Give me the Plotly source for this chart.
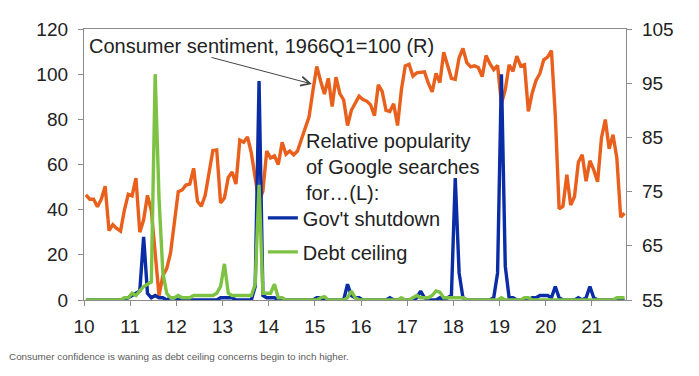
import plotly.graph_objects as go

# ---------------- data (monthly, Jan 2010 .. Sep 2021) ----------------
sentiment = [
    74.4, 73.6, 73.6, 72.2, 73.6, 76.0, 67.8, 68.9, 68.2, 67.7, 71.6, 74.5,   # 2010
    74.2, 77.5, 67.5, 69.8, 74.3, 71.5, 63.7, 55.8, 59.5, 60.8, 63.7, 69.9,   # 2011
    75.0, 75.3, 76.2, 76.4, 79.3, 73.2, 72.3, 74.3, 78.3, 82.6, 82.7, 72.9,   # 2012
    73.8, 77.6, 78.6, 76.4, 84.5, 84.1, 85.1, 82.1, 77.5, 73.2, 75.1, 82.5,   # 2013
    81.2, 81.6, 80.0, 84.1, 81.9, 82.5, 81.8, 82.5, 84.6, 86.9, 88.8, 93.6,   # 2014
    98.1, 95.4, 93.0, 95.9, 90.7, 96.1, 93.1, 91.9, 87.2, 90.0, 91.3, 92.6,   # 2015
    92.0, 91.7, 91.0, 89.0, 94.7, 93.5, 90.0, 89.8, 91.2, 87.2, 93.8, 98.2,   # 2016
    98.5, 96.3, 96.9, 97.0, 97.1, 95.0, 93.4, 96.8, 95.1, 100.7, 98.5, 95.9,  # 2017
    95.7, 99.7, 101.4, 98.8, 98.0, 98.2, 97.9, 96.2, 100.1, 98.6, 97.5, 98.3, # 2018
    91.2, 93.8, 98.4, 97.2, 100.0, 98.2, 98.4, 89.8, 93.2, 95.5, 96.8, 99.3,  # 2019
    99.8, 101.0, 89.1, 71.8, 72.3, 78.1, 72.5, 74.1, 80.4, 81.8, 76.9, 80.7,  # 2020
    79.0, 76.8, 84.9, 88.3, 82.9, 85.5, 81.2, 70.3, 71.0,                     # 2021
]

shutdown = [
    0, 0, 0, 0, 0, 0, 0, 0, 0, 0, 0, 1,        # 2010
    2, 3, 4, 28, 3, 1, 2, 1, 1, 0, 1, 1,       # 2011
    0, 0, 0, 0, 0, 0, 0, 0, 0, 0, 0, 1,        # 2012
    1, 1, 1, 0, 0, 0, 0, 0, 6, 97, 2, 1,       # 2013
    1, 1, 0, 0, 0, 0, 0, 0, 0, 0, 0, 0,        # 2014
    1, 1, 0, 0, 0, 0, 0, 0, 7, 2, 1, 1,        # 2015
    0, 0, 0, 0, 0, 0, 0, 1, 0, 0, 0, 0,        # 2016
    0, 0, 1, 4, 1, 0, 0, 0, 1, 0, 1, 2,        # 2017
    54, 12, 1, 0, 0, 0, 0, 0, 0, 0, 1, 12,     # 2018
    100, 15, 1, 1, 0, 0, 0, 0, 1, 1, 2, 2,     # 2019
    2, 1, 6, 1, 0, 0, 0, 0, 1, 0, 1, 6,        # 2020
    1, 0, 0, 0, 0, 0, 0, 0, 0,                 # 2021
]

debt_ceiling = [
    0, 0, 0, 0, 0, 0, 0, 0, 0, 0, 1, 1,        # 2010
    3, 2, 4, 6, 7, 8, 100, 45, 12, 3, 1, 1,    # 2011
    2, 1, 1, 1, 2, 2, 2, 2, 2, 2, 3, 6,        # 2012
    16, 3, 2, 2, 2, 2, 2, 2, 7, 51, 3, 3,      # 2013
    3, 7, 1, 1, 0, 0, 0, 0, 0, 0, 0, 0,        # 2014
    0, 1, 1.5, 0, 0, 0, 0, 0, 1, 4, 1, 0,      # 2015
    0, 0, 0, 0, 0, 0, 0, 0, 0, 0, 1, 0,        # 2016
    0, 1, 2, 1, 1, 1, 2, 4, 3.5, 1, 1, 1,      # 2017
    1, 1, 1, 0, 0, 0, 0, 0, 0, 0, 0, 0,        # 2018
    1, 0, 0, 0, 0, 0, 1, 1, 0, 0, 0, 0,        # 2019
    0, 0, 0, 0, 0, 0, 0, 0, 0, 0, 0, 0,        # 2020
    0, 0, 0, 0, 0, 0, 1, 1, 1,                 # 2021
]

x_tick_vals = list(range(10, 22))
x_tick_text = [str(v) for v in x_tick_vals]
left_ticks = [0, 20, 40, 60, 80, 100, 120]
right_ticks = [55, 65, 75, 85, 95, 105]

# month positions on a "two-digit year" axis (mid-month)
months = [10 + (i + 0.5) / 12 for i in range(len(sentiment))]

ORANGE = "#E8601C"
BLUE = "#0A2CA5"
GREEN = "#7DC242"
FONT = "Liberation Sans, Arial, sans-serif"
TXT = "#222222"
AXC = "#8c8c8c"

fig = go.Figure()
fig.add_trace(go.Scatter(x=months, y=sentiment, mode="lines", yaxis="y",
                         line=dict(color=ORANGE, width=3.4), showlegend=False,
                         name="Consumer sentiment"))
fig.add_trace(go.Scatter(x=months, y=shutdown, mode="lines", yaxis="y2",
                         line=dict(color=BLUE, width=3.4), name="Gov't shutdown",
                         legendgroup="a"))
fig.add_trace(go.Scatter(x=months, y=debt_ceiling, mode="lines", yaxis="y2",
                         line=dict(color=GREEN, width=3.4), name="Debt ceiling",
                         legendgroup="b"))

tickfont = dict(family=FONT, size=19, color=TXT)
xr = [10, 21.74]

fig.update_layout(
    width=699, height=376,
    margin=dict(l=84, r=73, t=29, b=76),
    paper_bgcolor="white", plot_bgcolor="white",
    font=dict(family=FONT, size=19, color=TXT),
    xaxis=dict(range=xr, tickvals=x_tick_vals, ticktext=x_tick_text,
               showline=True, linecolor=AXC, linewidth=1.3, mirror=True,
               ticks="outside", ticklen=5, tickcolor=AXC, tickwidth=1.3,
               showgrid=False, zeroline=False, tickfont=tickfont,
               ticklabelstandoff=4),
    xaxis2=dict(range=xr, overlaying="x", anchor="y", side="bottom",
                tickvals=x_tick_vals, showticklabels=False,
                ticks="inside", ticklen=5, tickcolor=AXC, tickwidth=1.3,
                showline=False, showgrid=False, zeroline=False),
    yaxis=dict(range=[55, 105], tickvals=right_ticks, side="right",
               showline=True, linecolor=AXC, linewidth=1.3,
               ticks="outside", ticklen=5, tickcolor=AXC, tickwidth=1.3,
               showgrid=False, zeroline=False, tickfont=tickfont,
               ticklabelstandoff=6),
    yaxis2=dict(range=[0, 120], tickvals=left_ticks, side="left",
                overlaying="y", anchor="x",
                showline=True, linecolor=AXC, linewidth=1.3,
                ticks="outside", ticklen=5, tickcolor=AXC, tickwidth=1.3,
                showgrid=False, zeroline=False, tickfont=tickfont,
                ticklabelstandoff=6),
    yaxis3=dict(range=[0, 120], tickvals=left_ticks, side="left",
                overlaying="y", anchor="x", showticklabels=False,
                ticks="inside", ticklen=5, tickcolor=AXC, tickwidth=1.3,
                showline=False, showgrid=False, zeroline=False),
    yaxis4=dict(range=[55, 105], tickvals=right_ticks, side="right",
                overlaying="y", anchor="x", showticklabels=False,
                ticks="inside", ticklen=5, tickcolor=AXC, tickwidth=1.3,
                showline=False, showgrid=False, zeroline=False),
    legend=dict(x=0.33, y=0.375, xanchor="left", yanchor="top",
                bgcolor="rgba(0,0,0,0)", font=dict(family=FONT, size=20, color=TXT),
                tracegroupgap=5, itemwidth=30),
    showlegend=True,
)

annotations = [
    dict(text="Consumer sentiment, 1966Q1=100 (R)", xref="paper", yref="paper",
         x=0.006, y=0.937, xanchor="left", yanchor="middle", showarrow=False,
         font=dict(family=FONT, size=20, color=TXT)),
    dict(text="", xref="x", yref="y", x=14.937, y=94.85, ax=-102, ay=-27,
         showarrow=True, arrowhead=5, arrowsize=1.8, arrowwidth=1,
         arrowcolor="#444444", standoff=0),
    dict(text="Relative popularity<br>of Google searches<br>for…(L):",
         xref="paper", yref="paper", x=0.406, y=0.49, xanchor="left",
         yanchor="middle", align="left", showarrow=False,
         font=dict(family=FONT, size=20, color=TXT)),
    dict(text="Consumer confidence is waning as debt ceiling concerns begin to inch higher.",
         xref="paper", yref="paper", x=-0.142, y=-0.21, xanchor="left",
         yanchor="middle", showarrow=False,
         font=dict(family="Liberation Sans, Arial", size=9.9, color="#5a5a5a")),
]
fig.update_layout(annotations=annotations)

fig.write_html("out.html",
               config={"displayModeBar": False},
               post_script="document.body.style.margin='0px';document.body.style.padding='0px';")
